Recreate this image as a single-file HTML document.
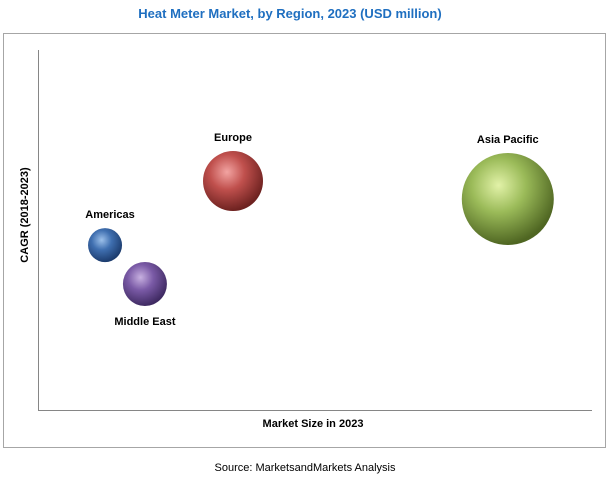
<!DOCTYPE html>
<html><head><meta charset="utf-8"><style>
body{margin:0;background:#fff;font-family:"Liberation Sans",Arial,sans-serif;}
svg{display:block}
</style></head><body>
<svg id="chart" width="609" height="485" viewBox="0 0 609 485">
<defs>
<radialGradient id="gBlue" cx="40%" cy="35%" r="65%"><stop offset="0" stop-color="#9cc0ea"/><stop offset="0.45" stop-color="#3f6fb0"/><stop offset="1" stop-color="#1c3c6e"/></radialGradient>
<radialGradient id="gPurple" cx="40%" cy="35%" r="65%"><stop offset="0" stop-color="#c7b0e0"/><stop offset="0.45" stop-color="#7a5aa6"/><stop offset="1" stop-color="#3f2a62"/></radialGradient>
<radialGradient id="gRed" cx="40%" cy="35%" r="65%"><stop offset="0" stop-color="#f2a4a2"/><stop offset="0.45" stop-color="#c0504d"/><stop offset="1" stop-color="#6e2220"/></radialGradient>
<radialGradient id="gGreen" cx="40%" cy="35%" r="65%"><stop offset="0" stop-color="#e2f2a8"/><stop offset="0.45" stop-color="#9bbb59"/><stop offset="1" stop-color="#4f6622"/></radialGradient>
</defs>
<text x="290" y="18" text-anchor="middle" font-size="13" font-weight="bold" fill="#1f6fc0">Heat Meter Market, by Region, 2023 (USD million)</text>
<rect x="3.5" y="33.5" width="602" height="414" fill="none" stroke="#a6a6a6"/>
<line x1="38.5" y1="50" x2="38.5" y2="410.5" stroke="#868686"/>
<line x1="38" y1="410.5" x2="592" y2="410.5" stroke="#868686"/>
<text x="313" y="427" text-anchor="middle" font-size="11" font-weight="bold" fill="#000">Market Size in 2023</text>
<text transform="translate(28,215) rotate(-90)" text-anchor="middle" font-size="11" font-weight="bold" fill="#000">CAGR (2018-2023)</text>
<text x="305" y="471" text-anchor="middle" font-size="11" fill="#000">Source: MarketsandMarkets Analysis</text>
<g id="marks"></g>
</svg>
<script>
const regions=["Americas","Middle East","Europe","Asia Pacific"];
const marketSize=[12.1,19.3,35.2,84.8];
const cagr=[45.8,35,63.6,58.6];
const bubbleSize=[17,22,30,46];
const fills=["gBlue","gPurple","gRed","gGreen"];
const labelPos=["above","below","above","above"];
const xS=v=>38+v/100*554;
const yS=v=>410-v/100*360;
const g=document.getElementById('marks');
const ns="http://www.w3.org/2000/svg";
regions.forEach((r,i)=>{
  const cx=xS(marketSize[i]),cy=yS(cagr[i]),rad=bubbleSize[i];
  const c=document.createElementNS(ns,'circle');
  c.setAttribute('cx',cx);c.setAttribute('cy',cy);c.setAttribute('r',rad);
  c.setAttribute('fill','url(#'+fills[i]+')');
  
  
  g.appendChild(c);
  const t=document.createElementNS(ns,'text');
  t.setAttribute('x',cx+(i==0?5:0));
  t.setAttribute('y',labelPos[i]=="above"?cy-rad-10:cy+rad+19);
  t.setAttribute('text-anchor','middle');t.setAttribute('font-size','11');t.setAttribute('font-weight','bold');
  t.textContent=r;
  
  
  g.appendChild(t);
});
</script>
</body></html>
